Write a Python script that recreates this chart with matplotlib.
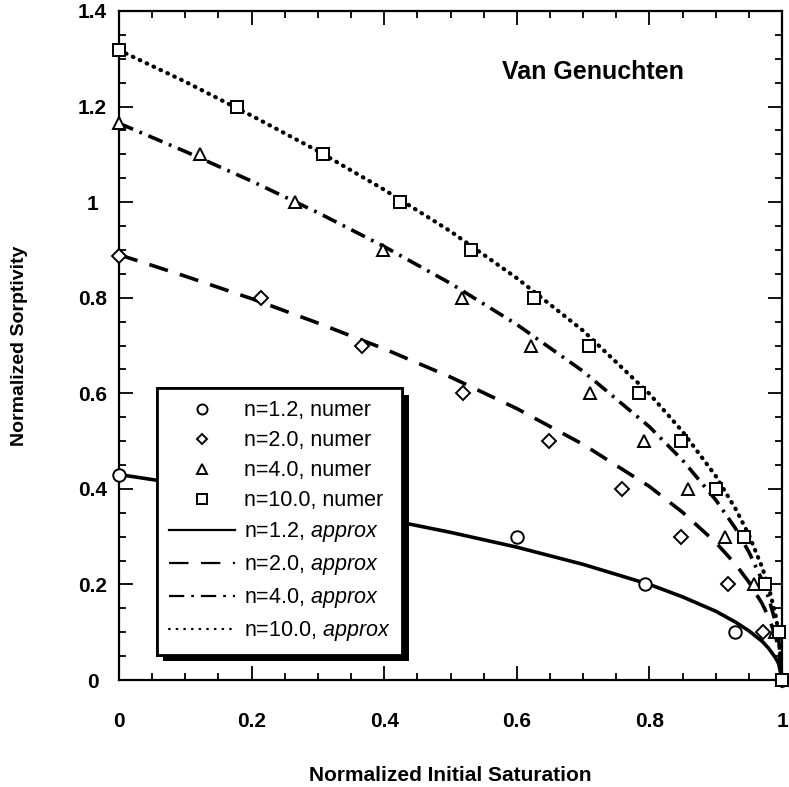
import matplotlib
matplotlib.use("Agg")
import matplotlib.pyplot as plt
import matplotlib.patheffects as pe
from matplotlib.ticker import MultipleLocator, FormatStrFormatter

plt.rcParams['font.family'] = ['Liberation Sans', 'DejaVu Sans']
plt.rcParams['mathtext.fontset'] = 'custom'
plt.rcParams['mathtext.rm'] = 'Liberation Sans'
plt.rcParams['mathtext.it'] = 'Liberation Sans:italic'
plt.rcParams['lines.scale_dashes'] = False

# numerical results (markers)
x_n12 = [0.0, 0.60, 0.793, 0.929, 1.0]
y_n12 = [0.43, 0.30, 0.20, 0.10, 0.0]
x_n20 = [0.0, 0.214, 0.367, 0.519, 0.649, 0.758, 0.848, 0.919, 0.971, 1.0]
y_n20 = [0.887, 0.80, 0.70, 0.60, 0.50, 0.40, 0.30, 0.20, 0.10, 0.0]
x_n40 = [0.0, 0.122, 0.265, 0.398, 0.517, 0.621, 0.71, 0.792, 0.858, 0.914, 0.958, 0.99, 1.0]
y_n40 = [1.165, 1.10, 1.00, 0.90, 0.80, 0.70, 0.60, 0.50, 0.40, 0.30, 0.20, 0.10, 0.0]
x_n100 = [0.0, 0.178, 0.307, 0.424, 0.531, 0.626, 0.709, 0.784, 0.848, 0.90, 0.943, 0.974, 0.995, 1.0]
y_n100 = [1.318, 1.20, 1.10, 1.00, 0.90, 0.80, 0.70, 0.60, 0.50, 0.40, 0.30, 0.20, 0.10, 0.0]

# approximate solutions (curves)
x_curve = [0.0, 0.1, 0.2, 0.3, 0.4, 0.5, 0.6, 0.7, 0.8, 0.85, 0.9, 0.93, 0.95, 0.97, 0.98, 0.99, 0.995, 1.0]
a_n12 = [0.43, 0.409, 0.387, 0.363, 0.337, 0.309, 0.278, 0.242, 0.200, 0.174, 0.144, 0.121, 0.103, 0.081, 0.066, 0.047, 0.034, 0.0]
a_n20 = [0.89, 0.845, 0.798, 0.747, 0.693, 0.634, 0.568, 0.493, 0.405, 0.351, 0.288, 0.242, 0.205, 0.160, 0.131, 0.093, 0.066, 0.0]
a_n40 = [1.165, 1.106, 1.044, 0.978, 0.907, 0.830, 0.744, 0.646, 0.530, 0.460, 0.377, 0.317, 0.268, 0.209, 0.171, 0.122, 0.087, 0.0]
a_n100 = [1.318, 1.252, 1.181, 1.107, 1.026, 0.939, 0.841, 0.731, 0.599, 0.520, 0.427, 0.358, 0.304, 0.236, 0.194, 0.138, 0.098, 0.0]

fig = plt.figure(figsize=(7.89, 7.87), dpi=100)
ax = fig.add_axes([119 / 789, 107 / 787, 663 / 789, 669 / 787])

mk = dict(linestyle='none', markerfacecolor='white', markeredgecolor='black',
          markeredgewidth=1.4, color='black', zorder=4, clip_on=False)
h1, = ax.plot(x_n12, y_n12, marker='o', markersize=9, label='n=1.2, numer', **mk)
h2, = ax.plot(x_n20, y_n20, marker='D', markersize=7, label='n=2.0, numer', **mk)
h3, = ax.plot(x_n40, y_n40, marker='^', markersize=9, label='n=4.0, numer', **mk)
h4, = ax.plot(x_n100, y_n100, marker='s', markersize=9, label='n=10.0, numer', **mk)

l1, = ax.plot(x_curve, a_n12, color='black', lw=2.6, label=r'n=1.2, $\mathit{approx}$')
l2, = ax.plot(x_curve, a_n20, color='black', lw=2.6, dashes=(14, 9),
              label=r'n=2.0, $\mathit{approx}$')
l3, = ax.plot(x_curve, a_n40, color='black', lw=2.6, dashes=(11, 5, 2, 5),
              label=r'n=4.0, $\mathit{approx}$')
l4, = ax.plot(x_curve, a_n100, color='black', lw=3, dashes=(0.5, 5),
              dash_capstyle='round', label=r'n=10.0, $\mathit{approx}$')

ax.set_xlim(0, 1)
ax.set_ylim(0, 1.4)
ax.xaxis.set_major_locator(MultipleLocator(0.2))
ax.xaxis.set_minor_locator(MultipleLocator(0.05))
ax.yaxis.set_major_locator(MultipleLocator(0.2))
ax.yaxis.set_minor_locator(MultipleLocator(0.05))
ax.xaxis.set_major_formatter(FormatStrFormatter('%g'))
ax.yaxis.set_major_formatter(FormatStrFormatter('%g'))
ax.tick_params(which='both', direction='in', top=True, right=True, width=1.3)
ax.tick_params(which='major', length=10)
ax.tick_params(which='minor', length=5)
ax.tick_params(axis='x', which='major', pad=23, labelsize=15)
ax.tick_params(axis='y', which='major', pad=19, labelsize=15)
for lab in ax.get_xticklabels() + ax.get_yticklabels():
    lab.set_fontweight('bold')
for lab in ax.get_yticklabels():
    lab.set_horizontalalignment('center')
for s in ax.spines.values():
    s.set_linewidth(1.6)

ax.set_xlabel('Normalized Initial Saturation', fontsize=15, fontweight='bold')
ax.set_ylabel('Normalized Sorptivity', fontsize=14, fontweight='bold')
ax.xaxis.set_label_coords(0.5, -0.128)
ax.yaxis.set_label_coords(-0.138, 0.5)

ax.text(0.715, 1.272, 'Van Genuchten', fontsize=18, fontweight='bold',
        ha='center', va='center')

leg = ax.legend(handles=[h1, h2, h3, h4, l1, l2, l3, l4], loc='lower left',
                bbox_to_anchor=(0.057, 0.037), borderaxespad=0, fontsize=15.5,
                handlelength=3.1, handletextpad=0.4, labelspacing=0.42,
                borderpad=0.55, markerscale=0.8, fancybox=False, framealpha=1,
                edgecolor='black')
leg.set_zorder(6)
leg.get_frame().set_linewidth(2)
leg.get_frame().set_path_effects([pe.withSimplePatchShadow(offset=(4.5, -4.5),
                                                           shadow_rgbFace='black',
                                                           alpha=1), pe.Normal()])
for ln in leg.get_lines():
    ln.set_linewidth(1.6)

fig.savefig('out.png', dpi=100)
